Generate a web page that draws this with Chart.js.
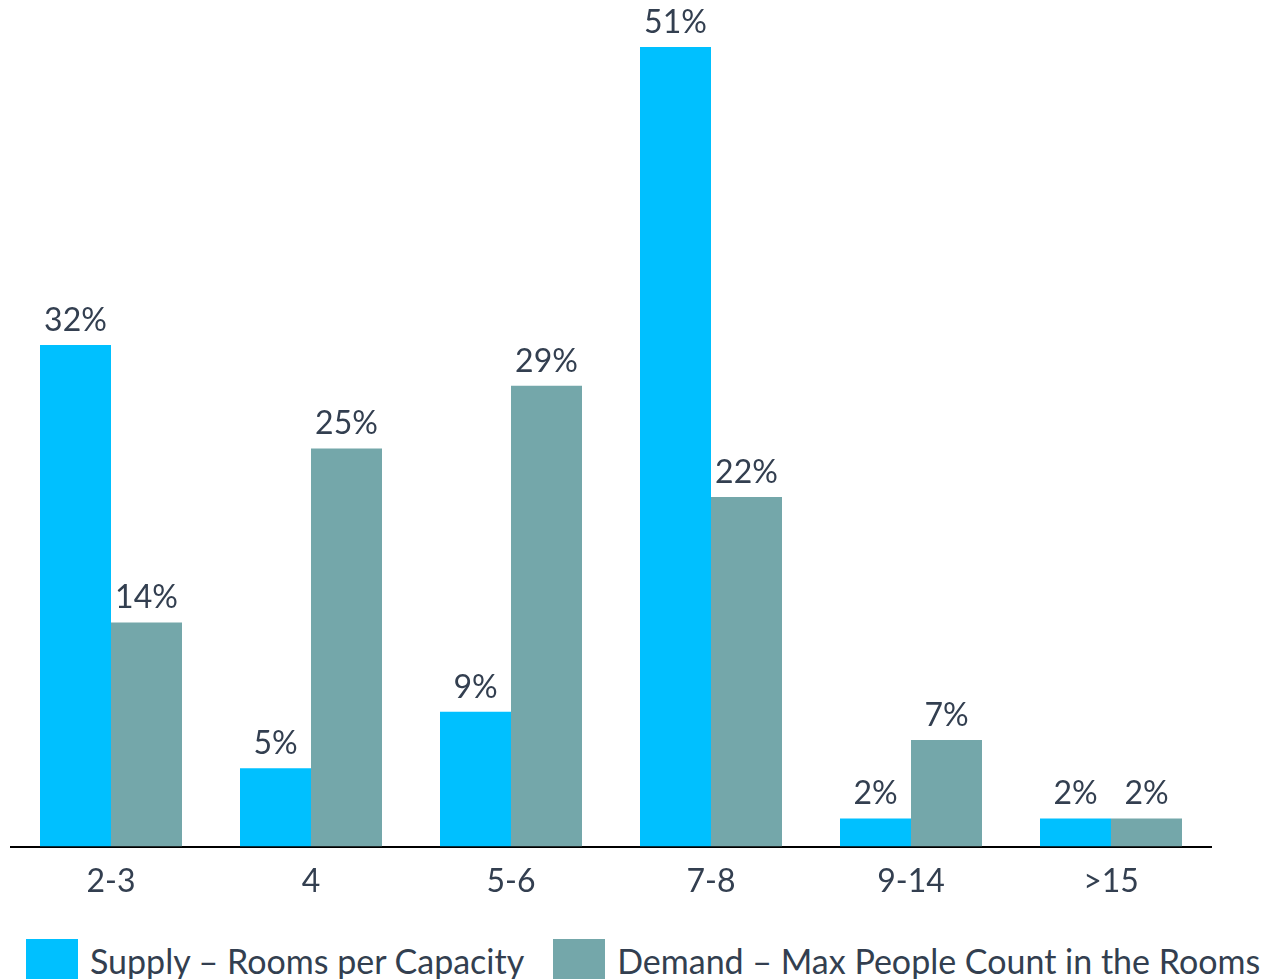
<!DOCTYPE html>
<html><head><meta charset="utf-8">
<script src="https://cdn.jsdelivr.net/npm/chart.js@4.4.1/dist/chart.umd.min.js"></script>
<style>
html,body{margin:0;padding:0;overflow:hidden;background:#fff;width:1270px;height:979px}
#wrap{position:absolute;left:0;top:0;width:1270px;height:917px}
#legend{position:absolute;left:26px;top:939px;display:flex;align-items:flex-start;font-family:Lato,sans-serif;font-size:34px;color:#333F50;white-space:nowrap}
#legend .item{display:flex;align-items:flex-start;margin-right:29px}
#legend .box{width:52px;height:40px;margin-right:12px;flex:none}
#legend .txt{line-height:40px;position:relative;top:2px}
</style>
</head><body><div id="wrap"><canvas id="c" width="1270" height="917"></canvas></div>
<div id="legend"></div>
<script>
const categories = ['2-3', '4', '5-6', '7-8', '9-14', '>15'];
const supplyValues = [32, 5, 8.6, 51, 1.8, 1.8];
const demandValues = [14.3, 25.4, 29.4, 22.3, 6.8, 1.8];
const seriesNames = ['Supply \u2013 Rooms per Capacity', 'Demand \u2013 Max People Count in the Rooms'];
const seriesColors = ['#00C0FF', '#74A7AA'];

const FONT = 'Lato';
const TEXT = '#333F50';

const labelPlugin = {
  id: 'barLabels',
  afterDatasetsDraw(chart) {
    const ctx = chart.ctx;
    ctx.save();
    ctx.font = '32px ' + FONT;
    ctx.fillStyle = TEXT;
    ctx.textAlign = 'center';
    ctx.textBaseline = 'alphabetic';
    chart.data.datasets.forEach((ds, i) => {
      chart.getDatasetMeta(i).data.forEach((bar, j) => {
        ctx.fillText(Math.round(ds.data[j]) + '%', bar.x, bar.y - 14);
      });
    });
    ctx.restore();
  }
};

const hiddenSide = (w) => ({
  display: true,
  grid: { display: false, drawTicks: false },
  border: { display: false },
  ticks: { display: false },
  afterFit(scale) { scale.width = w; }
});

const chart = new Chart(document.getElementById('c'), {
  type: 'bar',
  data: {
    labels: categories,
    datasets: [
      { label: seriesNames[0], data: supplyValues, backgroundColor: seriesColors[0] },
      { label: seriesNames[1], data: demandValues, backgroundColor: seriesColors[1] }
    ]
  },
  options: {
    responsive: false,
    animation: false,
    categoryPercentage: 0.71,
    barPercentage: 1,
    layout: { padding: 0 },
    plugins: {
      tooltip: { enabled: false },
      legend: { display: false }
    },
    scales: {
      x: {
        grid: { display: false, drawTicks: false },
        border: { display: true, color: '#000', width: 2 },
        ticks: { color: TEXT, padding: 16, font: { family: FONT, size: 32 } }
      },
      y: Object.assign(hiddenSide(11), { position: 'left', min: 0, max: 54 }),
      yRight: Object.assign(hiddenSide(59), { position: 'right', min: 0, max: 54 })
    }
  },
  plugins: [labelPlugin]
});

// HTML legend built from the chart's datasets
const legendEl = document.getElementById('legend');
chart.data.datasets.forEach(ds => {
  const item = document.createElement('div');
  item.className = 'item';
  const box = document.createElement('div');
  box.className = 'box';
  box.style.background = ds.backgroundColor;
  const txt = document.createElement('span');
  txt.className = 'txt';
  txt.textContent = ds.label;
  item.appendChild(box);
  item.appendChild(txt);
  legendEl.appendChild(item);
});
</script></body></html>
